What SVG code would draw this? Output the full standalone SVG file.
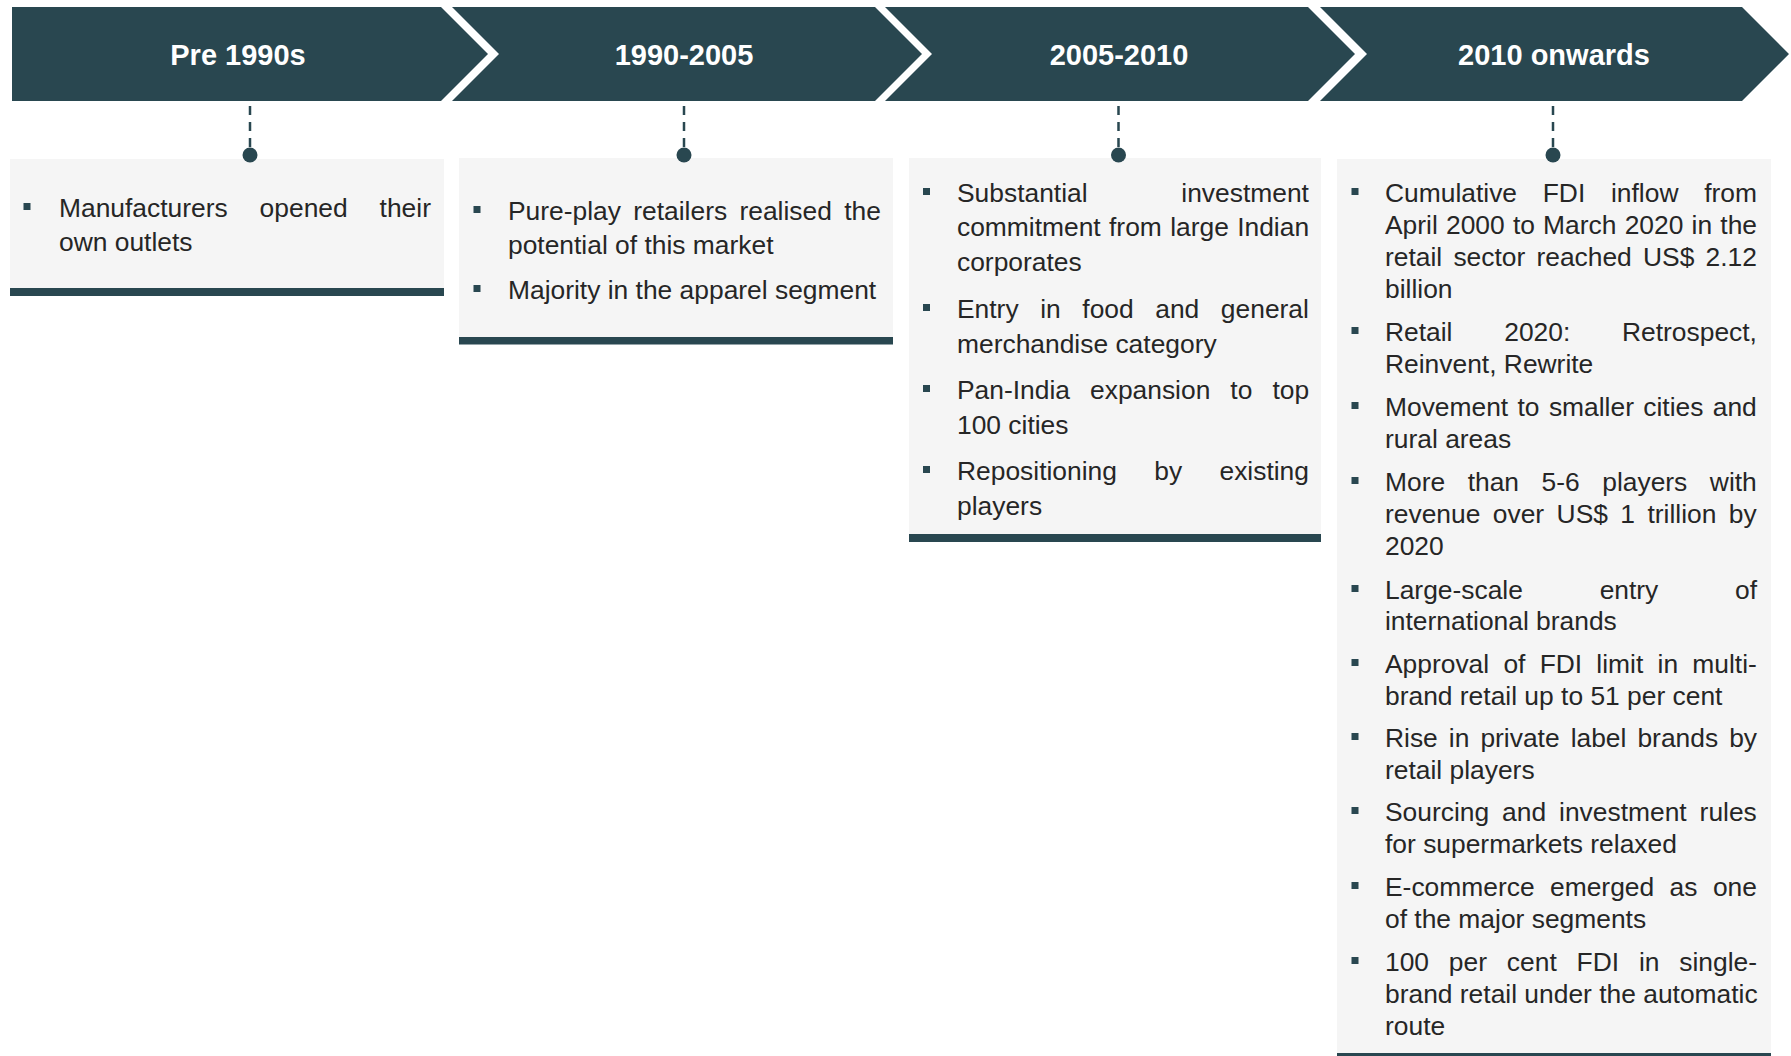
<svg xmlns="http://www.w3.org/2000/svg" width="1791" height="1056" viewBox="0 0 1791 1056">
<style>
.chev{fill:#294750}
.hdr{font-family:"Liberation Sans",Arial,sans-serif;font-weight:bold;font-size:29px;fill:#ffffff;text-anchor:middle}
.box{fill:#f5f5f5}
.bar{fill:#294750}
.bul{fill:#294750}
.t{font-family:"Liberation Sans",Arial,sans-serif;font-size:26.4px;fill:#262626}
.dash{stroke:#294750;stroke-width:2.5;stroke-dasharray:9 7;fill:none}
.dot{fill:#294750}
</style>
<rect width="1791" height="1056" fill="#ffffff"/>

<g id="header-pre1990s">
<polygon class="chev" points="12,7 441,7 488,54 441,101 12,101"/>
<text class="hdr" x="238" y="65">Pre 1990s</text>
</g>
<g id="header-1990-2005">
<polygon class="chev" points="452,7 875,7 922,54 875,101 452,101 499,54"/>
<text class="hdr" x="684" y="65">1990-2005</text>
</g>
<g id="header-2005-2010">
<polygon class="chev" points="885,7 1308,7 1355,54 1308,101 885,101 932,54"/>
<text class="hdr" x="1119" y="65">2005-2010</text>
</g>
<g id="header-2010-onwards">
<polygon class="chev" points="1320,7 1742,7 1789,54 1742,101 1320,101 1367,54"/>
<text class="hdr" x="1554" y="65">2010 onwards</text>
</g>

<g id="box-pre1990s">
<rect class="box" x="10" y="159" width="434" height="130"/>
<rect class="bar" x="10" y="288" width="434" height="8"/>
<rect class="bul" x="23.5" y="203" width="7" height="7"/>
<text class="t" x="59" y="216.5" style="word-spacing:24.6px">Manufacturers opened their</text>
<text class="t" x="59" y="250.5">own outlets</text>
</g>

<g id="box-1990-2005">
<rect class="box" x="459" y="158" width="434" height="180"/>
<rect class="bar" x="459" y="337" width="434" height="7.5"/>
<rect class="bul" x="473.5" y="206" width="7" height="7"/>
<text class="t" x="508" y="219.5" style="word-spacing:5px">Pure-play retailers realised the</text>
<text class="t" x="508" y="253.5">potential of this market</text>
<rect class="bul" x="473.5" y="285" width="7" height="7"/>
<text class="t" x="508" y="298.5">Majority in the apparel segment</text>
</g>

<g id="box-2005-2010">
<rect class="box" x="909" y="158" width="412" height="377"/>
<rect class="bar" x="909" y="534" width="412" height="8"/>
<rect class="bul" x="923" y="188" width="7" height="7"/>
<text class="t" x="957" y="201.5" style="word-spacing:86.4px">Substantial investment</text>
<text class="t" x="957" y="235.5" style="word-spacing:1px">commitment from large Indian</text>
<text class="t" x="957" y="270.5">corporates</text>
<rect class="bul" x="923" y="304" width="7" height="7"/>
<text class="t" x="957" y="317.5" style="word-spacing:14.25px">Entry in food and general</text>
<text class="t" x="957" y="352.5">merchandise category</text>
<rect class="bul" x="923" y="385" width="7" height="7"/>
<text class="t" x="957" y="398.5" style="word-spacing:12.7px">Pan-India expansion to top</text>
<text class="t" x="957" y="433.5">100 cities</text>
<rect class="bul" x="923" y="466" width="7" height="7"/>
<text class="t" x="957" y="479.5" style="word-spacing:30px">Repositioning by existing</text>
<text class="t" x="957" y="514.5">players</text>
</g>

<g id="box-2010-onwards">
<rect class="box" x="1337" y="159" width="434" height="895"/>
<rect class="bar" x="1337" y="1053" width="434" height="8"/>
<rect class="bul" x="1351.5" y="188" width="7" height="7"/>
<text class="t" x="1385" y="201.5" style="word-spacing:18.4px">Cumulative FDI inflow from</text>
<text class="t" x="1385" y="233.5" style="word-spacing:0.87px">April 2000 to March 2020 in the</text>
<text class="t" x="1385" y="265.5" style="word-spacing:3.85px">retail sector reached US$ 2.12</text>
<text class="t" x="1385" y="297.5">billion</text>
<rect class="bul" x="1351.5" y="327" width="7" height="7"/>
<text class="t" x="1385" y="340.5" style="word-spacing:44.4px">Retail 2020: Retrospect,</text>
<text class="t" x="1385" y="372.5">Reinvent, Rewrite</text>
<rect class="bul" x="1351.5" y="402" width="7" height="7"/>
<text class="t" x="1385" y="415.5" style="word-spacing:2px">Movement to smaller cities and</text>
<text class="t" x="1385" y="447.5">rural areas</text>
<rect class="bul" x="1351.5" y="477" width="7" height="7"/>
<text class="t" x="1385" y="490.5" style="word-spacing:15.2px">More than 5-6 players with</text>
<text class="t" x="1385" y="522.5" style="word-spacing:5.1px">revenue over US$ 1 trillion by</text>
<text class="t" x="1385" y="554.5">2020</text>
<rect class="bul" x="1351.5" y="585" width="7" height="7"/>
<text class="t" x="1385" y="598.5" style="word-spacing:69.4px">Large-scale entry of</text>
<text class="t" x="1385" y="629.5">international brands</text>
<rect class="bul" x="1351.5" y="659" width="7" height="7"/>
<text class="t" x="1385" y="672.5" style="word-spacing:6.9px">Approval of FDI limit in multi-</text>
<text class="t" x="1385" y="704.5">brand retail up to 51 per cent</text>
<rect class="bul" x="1351.5" y="733" width="7" height="7"/>
<text class="t" x="1385" y="746.5" style="word-spacing:3.7px">Rise in private label brands by</text>
<text class="t" x="1385" y="778.5">retail players</text>
<rect class="bul" x="1351.5" y="807" width="7" height="7"/>
<text class="t" x="1385" y="820.5" style="word-spacing:5.6px">Sourcing and investment rules</text>
<text class="t" x="1385" y="852.5">for supermarkets relaxed</text>
<rect class="bul" x="1351.5" y="882" width="7" height="7"/>
<text class="t" x="1385" y="895.5" style="word-spacing:8.1px">E-commerce emerged as one</text>
<text class="t" x="1385" y="927.5">of the major segments</text>
<rect class="bul" x="1351.5" y="957" width="7" height="7"/>
<text class="t" x="1385" y="970.5" style="word-spacing:12.5px">100 per cent FDI in single-</text>
<text class="t" x="1385" y="1002.5">brand retail under the automatic</text>
<text class="t" x="1385" y="1034.5">route</text>
</g>

<g id="connectors">
<line class="dash" x1="250" y1="106" x2="250" y2="148"/>
<circle class="dot" cx="250" cy="155" r="7.5"/>
<line class="dash" x1="684" y1="106" x2="684" y2="148"/>
<circle class="dot" cx="684" cy="155" r="7.5"/>
<line class="dash" x1="1118.5" y1="106" x2="1118.5" y2="148"/>
<circle class="dot" cx="1118.5" cy="155" r="7.5"/>
<line class="dash" x1="1553" y1="106" x2="1553" y2="148"/>
<circle class="dot" cx="1553" cy="155" r="7.5"/>
</g>
</svg>
